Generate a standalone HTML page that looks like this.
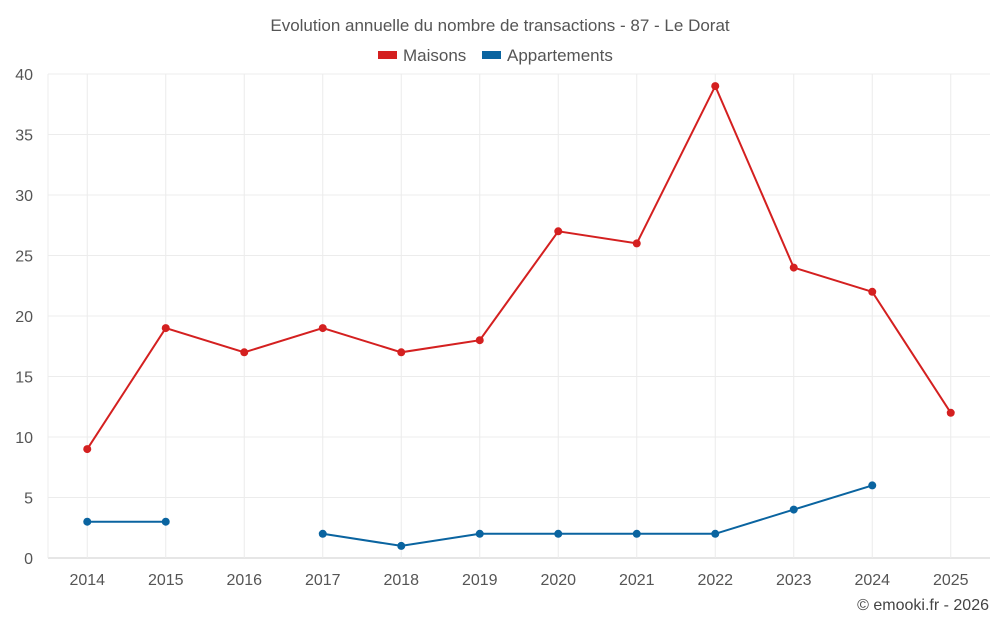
<!DOCTYPE html>
<html><head><meta charset="utf-8"><style>
body{margin:0;background:#fff;font-family:"Liberation Sans",sans-serif}
svg text{font-family:"Liberation Sans",sans-serif}
</style></head><body>
<svg id="chart" width="1000" height="625">
<text x="500" y="31" text-anchor="middle" font-size="17" fill="#555">Evolution annuelle du nombre de transactions - 87 - Le Dorat</text>
<g>
<g><rect x="378" y="51" width="19" height="8" fill="#d42020"/><text x="403" y="61" font-size="17" fill="#555">Maisons</text></g>
<g><rect x="482" y="51" width="19" height="8" fill="#0a64a0"/><text x="507" y="61" font-size="17" fill="#555">Appartements</text></g>
</g>
<g id="grid"></g><g id="axes"></g><g id="series"></g>
<text x="989" y="610" text-anchor="end" font-size="16" fill="#444">© emooki.fr - 2026</text>
</svg>
<script>
const years=["2014","2015","2016","2017","2018","2019","2020","2021","2022","2023","2024","2025"];
const maisons=[9,19,17,19,17,18,27,26,39,24,22,12];
const appartements=[3,3,null,2,1,2,2,2,2,4,6,null];
const yTicks=[0,5,10,15,20,25,30,35,40];
const NS="http://www.w3.org/2000/svg";
const L=48,R=990,T=74,B=558,yMax=40;
const bw=(R-L)/years.length;
const xs=i=>L+bw*(i+0.5);
const ys=v=>B-(v/yMax)*(B-T);
function mk(tag,attrs,parent){const e=document.createElementNS(NS,tag);for(const k in attrs)e.setAttribute(k,attrs[k]);parent.appendChild(e);return e;}
const grid=document.getElementById('grid'),axes=document.getElementById('axes'),ser=document.getElementById('series');
yTicks.forEach(t=>{
 const l=mk('line',{x1:L,x2:R,y1:ys(t),y2:ys(t),stroke:t===0?'#ccc':'#ececec'},grid);
 
 
 const tx=mk('text',{x:33,y:ys(t)+6,'text-anchor':'end','font-size':16,fill:'#555'},axes);
 tx.textContent=t;
 
 
});
mk('line',{x1:L,x2:L,y1:T,y2:B,stroke:'#ececec'},grid);
years.forEach((y,i)=>{
 const l=mk('line',{x1:xs(i),x2:xs(i),y1:T,y2:B,stroke:'#ececec'},grid);
 
 
 const tx=mk('text',{x:xs(i),y:585,'text-anchor':'middle','font-size':16,fill:'#555'},axes);
 tx.textContent=y;
 
 
});
function draw(vals,color,name){
 let seg=[];const segs=[];
 vals.forEach((v,i)=>{if(v==null){if(seg.length)segs.push(seg);seg=[];}else seg.push([xs(i),ys(v)]);});
 if(seg.length)segs.push(seg);
 segs.forEach(s=>{
  const p=mk('polyline',{points:s.map(q=>q.join(',')).join(' '),fill:'none',stroke:color,'stroke-width':2},ser);
  
  
 });
 vals.forEach((v,i)=>{if(v==null)return;
  const c=mk('circle',{cx:xs(i),cy:ys(v),r:4,fill:color},ser);
  
  
 });
}
draw(maisons,'#d42020','maisons');
draw(appartements,'#0a64a0','appartements');
</script>
</body></html>
